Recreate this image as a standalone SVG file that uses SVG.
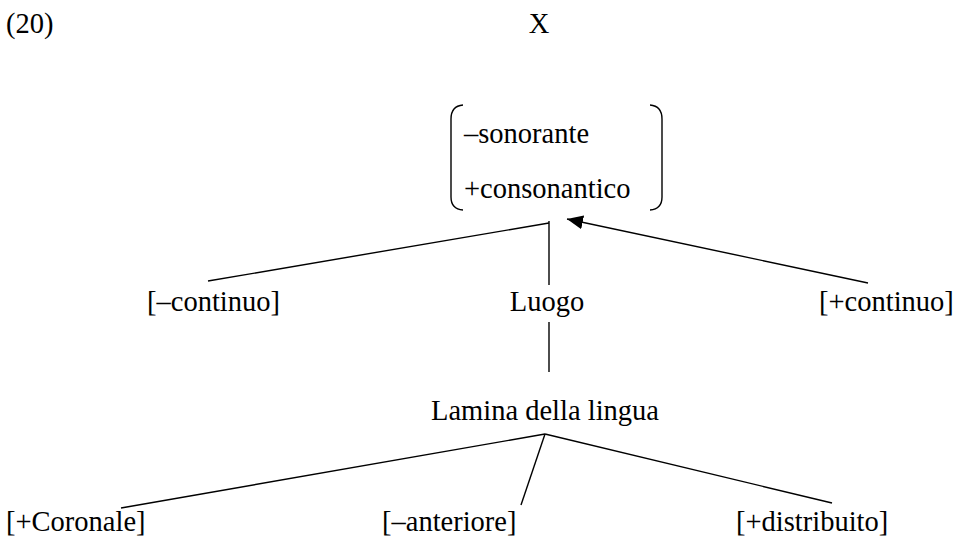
<svg xmlns="http://www.w3.org/2000/svg" width="973" height="541" viewBox="0 0 973 541">
<style>
text{font-family:"Liberation Serif","Times New Roman",serif;font-size:28.5px;fill:#000}
.l{stroke:#000;stroke-width:1.4;fill:none}
</style>
<defs>
<marker id="ah" viewBox="0 0 16 14" refX="16" refY="7" markerWidth="16" markerHeight="14" markerUnits="userSpaceOnUse" orient="auto">
<path d="M0,0 L16,7 L0,14 z" fill="#000"/>
</marker>
</defs>
<rect width="973" height="541" fill="#fff"/>
<g id="label20"><text x="6" y="33">(20)</text></g>
<g id="X"><text x="539" y="33" text-anchor="middle">X</text></g>
<g id="matrix">
<path class="l" d="M463 105 Q451 106 451 119 L451 197 Q451 209 463 210"/>
<path class="l" d="M650 105 Q662 106 662 119 L662 197 Q662 209 650 210"/>
<text x="464" y="143">–sonorante</text>
<text x="464" y="198">+consonantico</text>
</g>
<g id="mcontinuo"><text x="147" y="311">[–continuo]</text></g>
<g id="luogo"><text x="547" y="311" text-anchor="middle">Luogo</text></g>
<g id="pcontinuo"><text x="819" y="311">[+continuo]</text></g>
<g id="lamina"><text x="545" y="420" text-anchor="middle">Lamina della lingua</text></g>
<g id="coronale"><text x="6" y="531">[+Coronale]</text></g>
<g id="anteriore"><text x="382" y="531">[–anteriore]</text></g>
<g id="distribuito"><text x="736" y="531">[+distribuito]</text></g>
<g id="connectors">
<line class="l" x1="549" y1="221" x2="549" y2="285"/>
<line class="l" x1="208" y1="281" x2="549" y2="223"/>
<line class="l" x1="868" y1="283" x2="567" y2="219" marker-end="url(#ah)"/>
<line class="l" x1="549" y1="322" x2="549" y2="372"/>
<line class="l" x1="545" y1="434" x2="121" y2="508"/>
<line class="l" x1="545" y1="434" x2="521" y2="505"/>
<line class="l" x1="545" y1="434" x2="832" y2="503"/>
</g>
</svg>
